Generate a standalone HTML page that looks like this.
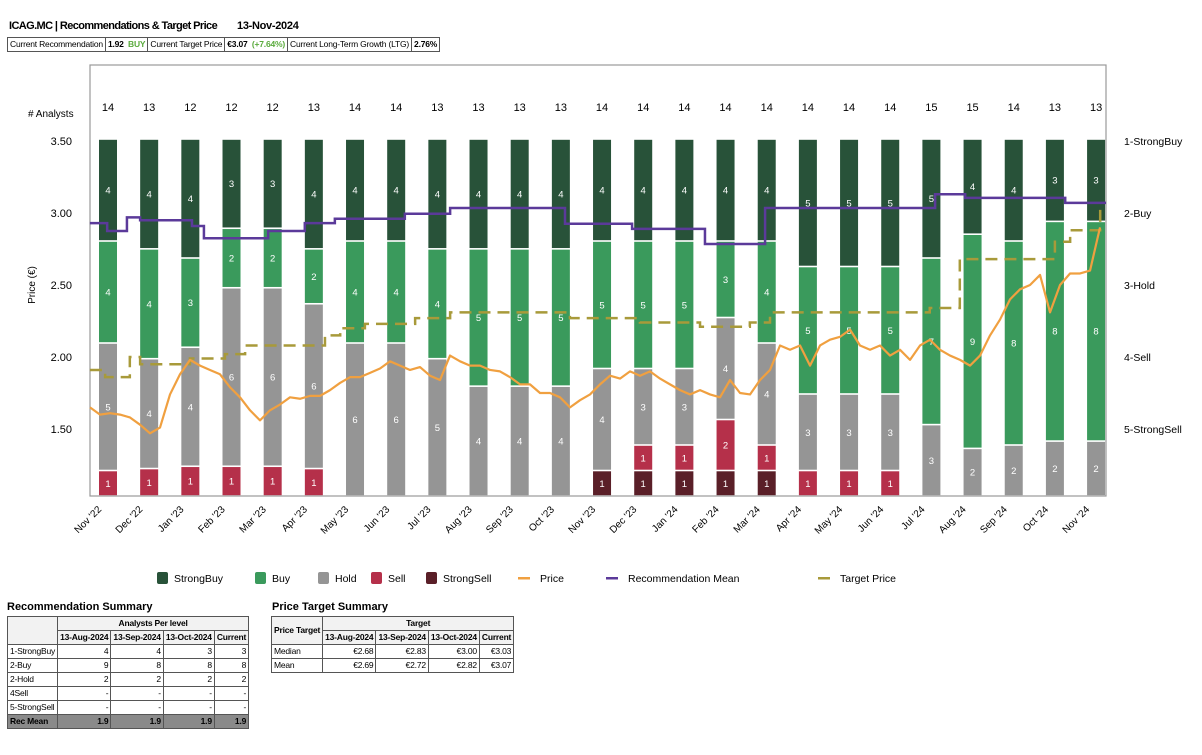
<!DOCTYPE html>
<html><head><meta charset="utf-8">
<style>
body{margin:0;background:#fff;font-family:"Liberation Sans",sans-serif;}
#wrap{position:relative;width:1202px;height:755px;overflow:hidden;}
.t{position:absolute;font-size:11px;font-weight:bold;color:#000;}
table{position:absolute;border-collapse:collapse;font-size:8.5px;letter-spacing:-0.2px;}
td,th{border:1px solid #555;padding:0 2px;height:13px;line-height:13px;white-space:nowrap;}
th{font-weight:bold;background:#f2f2f2;text-align:center;}
td.n{text-align:right;}
tr.mean td{background:#8a8a8a;font-weight:bold;}
</style></head><body>
<div id="wrap">
<div class="t" style="left:9px;top:20px;font-size:11px;letter-spacing:-0.6px">ICAG.MC | Recommendations &amp; Target Price</div>
<div class="t" style="left:237px;top:20px;font-size:11px;letter-spacing:-0.3px">13-Nov-2024</div>
<table style="left:7px;top:37px;"><tr>
<td>Current Recommendation</td>
<td><b>1.92</b> &nbsp;<b style="color:#5aaa3c">BUY</b></td>
<td>Current Target Price</td>
<td><b>€3.07</b> &nbsp;<b style="color:#5aaa3c">(+7.64%)</b></td>
<td>Current Long-Term Growth (LTG)</td>
<td><b>2.76%</b></td></tr></table>

<svg id="chart" width="1202" height="600" style="position:absolute;left:0;top:0"></svg>

<div class="t" style="left:7px;top:601px">Recommendation Summary</div>
<table style="left:7px;top:616px;width:238px">
<tr><th rowspan="2" style="background:#f2f2f2"></th><th colspan="4">Analysts Per level</th></tr>
<tr><th>13-Aug-2024</th><th>13-Sep-2024</th><th>13-Oct-2024</th><th>Current</th></tr>
<tr><td>1-StrongBuy</td><td class="n">4</td><td class="n">4</td><td class="n">3</td><td class="n">3</td></tr>
<tr><td>2-Buy</td><td class="n">9</td><td class="n">8</td><td class="n">8</td><td class="n">8</td></tr>
<tr><td>2-Hold</td><td class="n">2</td><td class="n">2</td><td class="n">2</td><td class="n">2</td></tr>
<tr><td>4Sell</td><td class="n">-</td><td class="n">-</td><td class="n">-</td><td class="n">-</td></tr>
<tr><td>5-StrongSell</td><td class="n">-</td><td class="n">-</td><td class="n">-</td><td class="n">-</td></tr>
<tr class="mean"><td>Rec Mean</td><td class="n">1.9</td><td class="n">1.9</td><td class="n">1.9</td><td class="n">1.9</td></tr>
</table>

<div class="t" style="left:272px;top:601px">Price Target Summary</div>
<table style="left:271px;top:616px;width:241px">
<tr><th rowspan="2">Price Target</th><th colspan="4">Target</th></tr>
<tr><th>13-Aug-2024</th><th>13-Sep-2024</th><th>13-Oct-2024</th><th>Current</th></tr>
<tr><td>Median</td><td class="n">€2.68</td><td class="n">€2.83</td><td class="n">€3.00</td><td class="n">€3.03</td></tr>
<tr><td>Mean</td><td class="n">€2.69</td><td class="n">€2.72</td><td class="n">€2.82</td><td class="n">€3.07</td></tr>
</table>
</div>
<script>
const cats=["Nov '22","Dec '22","Jan '23","Feb '23","Mar '23","Apr '23","May '23","Jun '23","Jul '23","Aug '23","Sep '23","Oct '23","Nov '23","Dec '23","Jan '24","Feb '24","Mar '24","Apr '24","May '24","Jun '24","Jul '24","Aug '24","Sep '24","Oct '24","Nov '24"];
const strongBuy=[4,4,4,3,3,4,4,4,4,4,4,4,4,4,4,4,4,5,5,5,5,4,4,3,3];
const buy=[4,4,3,2,2,2,4,4,4,5,5,5,5,5,5,3,4,5,5,5,7,9,8,8,8];
const hold=[5,4,4,6,6,6,6,6,5,4,4,4,4,3,3,4,4,3,3,3,3,2,2,2,2];
const sell=[1,1,1,1,1,1,0,0,0,0,0,0,0,1,1,2,1,1,1,1,0,0,0,0,0];
const strongSell=[0,0,0,0,0,0,0,0,0,0,0,0,1,1,1,1,1,0,0,0,0,0,0,0,0];
const priceStartT=-0.437, priceStepT=0.2429;
const price=[1.65,1.60,1.61,1.60,1.58,1.53,1.47,1.51,1.74,1.88,1.98,1.94,1.91,1.88,1.79,1.72,1.63,1.56,1.63,1.67,1.72,1.71,1.73,1.73,1.77,1.82,1.86,1.86,1.89,1.92,1.97,1.94,1.91,1.93,1.87,1.84,2.01,1.97,1.94,1.94,1.91,1.90,1.86,1.81,1.81,1.75,1.75,1.72,1.65,1.70,1.74,1.81,1.87,1.85,1.90,1.87,1.90,1.85,1.81,1.77,1.74,1.77,1.74,1.72,1.84,1.75,1.74,1.84,1.91,2.08,2.05,2.08,1.94,2.08,2.12,2.14,2.19,2.08,2.05,2.08,2.01,2.05,1.98,2.08,2.12,2.05,2.01,1.98,1.94,2.01,2.15,2.26,2.40,2.47,2.50,2.57,2.31,2.50,2.58,2.58,2.60,2.90];
const tgtT=[-0.44,-0.07,0.53,0.78,1.99,2.84,3.33,5.27,5.64,6.24,7.46,8.31,11.22,12.92,14.38,15.59,16.08,19.96,20.69,23.0,23.37,24.1];
const tgtV=[1.91,1.86,2.0,1.95,1.99,2.02,2.08,2.15,2.20,2.23,2.27,2.31,2.27,2.24,2.21,2.24,2.31,2.34,2.68,2.80,2.88,3.03];
const recT=[-0.44,-0.02,0.46,0.78,2.04,2.33,3.89,4.78,5.51,7.21,8.31,11.1,12.73,14.5,15.96,20.09,20.82,23.25];
const recV=[2.14,2.25,2.06,2.10,2.18,2.35,2.25,2.14,2.08,2.01,1.93,2.15,2.22,2.43,1.93,1.74,1.79,1.86];
const priceTicks=[3.5,3.0,2.5,2.0,1.5];
const recLabels=["1-StrongBuy","2-Buy","3-Hold","4-Sell","5-StrongSell"];

const svg=document.getElementById('chart');
const NS='http://www.w3.org/2000/svg';
const L=90,R=1106,T=65,B=496,barTop=139;
const xS=t=>108+t*41.17;
const yP=p=>141+(3.5-p)*144;
const yR=r=>141+(r-1)*72;
function mk(tag,attrs,parent){const e=document.createElementNS(NS,tag);for(const k in attrs)e.setAttribute(k,attrs[k]);(parent||svg).appendChild(e);return e;}
function txt(x,y,s,attrs){const e=mk('text',Object.assign({x:x,y:y,'font-family':'Liberation Sans, sans-serif','font-size':10},attrs||{}));e.textContent=s;return e;}

let f=mk('rect',{x:L,y:T,width:R-L,height:B-T,fill:'none',stroke:'#999','stroke-width':1.2});



let a=txt(28,117,'# Analysts',{'font-size':10});


let pl=txt(0,0,'Price (€)',{'font-size':10,transform:'translate(35,285) rotate(-90)','text-anchor':'middle'});


priceTicks.forEach(p=>{const e=txt(72,yP(p)+4,p.toFixed(2),{'text-anchor':'end','font-size':11});

});
recLabels.forEach((s,i)=>{const e=txt(1124,yR(i+1)+4,s,{'font-size':10.5});

});

const cols={ss:'#5a1f28',s:'#b5304a',h:'#959595',b:'#3a9a5c',sb:'#285239'};
const H=B-barTop;
cats.forEach((c,i)=>{
 const segs=[['ss',strongSell[i]],['s',sell[i]],['h',hold[i]],['b',buy[i]],['sb',strongBuy[i]]];
 const tot=segs.reduce((s,v)=>s+v[1],0);
 const cx=xS(i); let y=B;
 const g=mk('g',{});
 
 
 segs.forEach(([k,v])=>{ if(!v)return; const h=H*v/tot; y-=h;
  const r=mk('rect',{x:cx-9,y:y+0.8,width:18,height:h-1.6,fill:cols[k]},g);
  
  
  const t=txt(cx,y+h/2+3.5,String(v),{'text-anchor':'middle','font-size':9.5,fill:'#fff'});
  g.appendChild(t);
 });
 const n=txt(cx,111,String(tot),{'text-anchor':'middle','font-size':11});
 
 
 const xl=txt(0,0,c,{'text-anchor':'end','font-size':10,transform:`translate(${cx-6},${B+14}) rotate(-45)`});
 
 
});

function stepPath(ts,vs,yf){let d='';ts.forEach((t,i)=>{const x=xS(t),y=yf(vs[i]);d+=(i?`L${x},${yf(vs[i-1])}L${x},${y}`:`M${x},${y}`);});d+=`L${R},${yf(vs[vs.length-1])}`;return d;}
let tp=mk('path',{d:stepPath(tgtT,tgtV,yP),fill:'none',stroke:'#a89a3a','stroke-width':2.5,'stroke-dasharray':'12,7'});


let rp=mk('path',{d:stepPath(recT,recV,yR),fill:'none',stroke:'#5b3a9a','stroke-width':2.5});


let pd=price.map((p,i)=>(i?'L':'M')+xS(priceStartT+i*priceStepT)+','+yP(p)).join('');
let pp=mk('path',{d:pd,fill:'none',stroke:'#f0a040','stroke-width':2.2,'stroke-linejoin':'round'});



const leg=[['StrongBuy',cols.sb,157,'box'],['Buy',cols.b,255,'box'],['Hold',cols.h,318,'box'],['Sell',cols.s,371,'box'],['StrongSell',cols.ss,426,'box'],['Price','#f0a040',518,'line'],['Recommendation Mean','#5b3a9a',606,'line'],['Target Price','#a89a3a',818,'line']];
leg.forEach(([s,c,x,k])=>{const g=mk('g',{});
 
 
 if(k==='box'){mk('rect',{x:x,y:572,width:11,height:12,rx:2,fill:c},g);txt(x+17,582,s,{'font-size':10.5});}
 else{mk('rect',{x:x,y:577,width:12,height:2.5,fill:c},g);txt(x+22,582,s,{'font-size':10.5});}
 g.appendChild(svg.lastChild);
});
</script>
</body></html>
